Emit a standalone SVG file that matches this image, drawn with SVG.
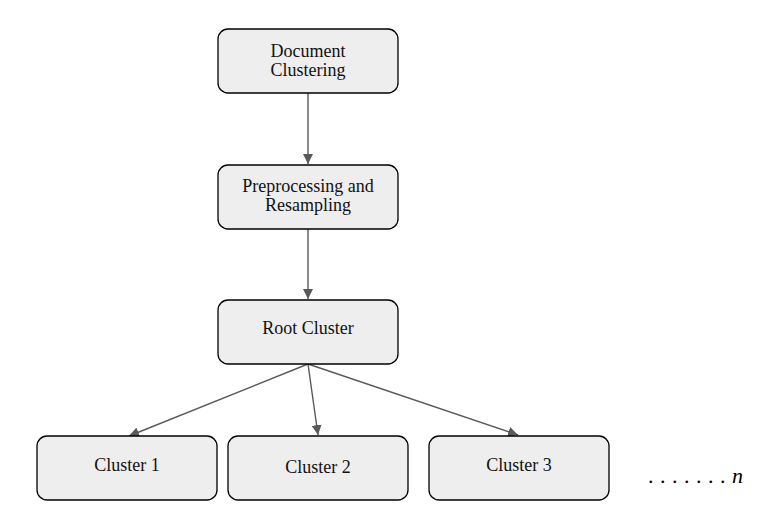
<svg xmlns="http://www.w3.org/2000/svg" width="764" height="512" viewBox="0 0 764 512">
<style>
.box{fill:#eeeeee;stroke:#000;stroke-width:1.3}
.lbl{font-family:"Liberation Serif","DejaVu Serif",serif;font-size:18px;fill:#111;text-anchor:middle}
.edge{stroke:#595959;stroke-width:1.4;fill:none}
</style>
<defs>
<marker id="ah" viewBox="0 0 10 10" refX="10" refY="5" markerWidth="10" markerHeight="10" markerUnits="userSpaceOnUse" orient="auto">
<path d="M0,0 L10,5 L0,10 z" fill="#595959"/>
</marker>
</defs>
<rect width="764" height="512" fill="#fff"/>
<g id="connectors">
<line class="edge" x1="308" y1="93" x2="308" y2="164" marker-end="url(#ah)"/>
<line class="edge" x1="308" y1="229" x2="308" y2="299" marker-end="url(#ah)"/>
<line class="edge" x1="308" y1="364" x2="129" y2="436" marker-end="url(#ah)"/>
<line class="edge" x1="308" y1="364" x2="318" y2="435" marker-end="url(#ah)"/>
<line class="edge" x1="308" y1="364" x2="518" y2="435" marker-end="url(#ah)"/>
</g>
<g id="doc">
<rect class="box" x="218" y="29" width="180" height="64" rx="10"/>
<text class="lbl" x="308" y="57">Document</text>
<text class="lbl" x="308" y="76">Clustering</text>
</g>
<g id="pre">
<rect class="box" x="218" y="165" width="180" height="64" rx="10"/>
<text class="lbl" x="308" y="192">Preprocessing and</text>
<text class="lbl" x="308" y="211">Resampling</text>
</g>
<g id="root">
<rect class="box" x="218" y="300" width="180" height="64" rx="10"/>
<text class="lbl" x="308" y="334">Root Cluster</text>
</g>
<g id="c1">
<rect class="box" x="37" y="436" width="180" height="64" rx="10"/>
<text class="lbl" x="127" y="471">Cluster 1</text>
</g>
<g id="c2">
<rect class="box" x="228" y="436" width="180" height="64" rx="10"/>
<text class="lbl" x="318" y="473">Cluster 2</text>
</g>
<g id="c3">
<rect class="box" x="429" y="436" width="180" height="64" rx="10"/>
<text class="lbl" x="519" y="471">Cluster 3</text>
</g>
<text x="648" y="483" font-family="Liberation Serif, serif" font-size="22" fill="#000" letter-spacing="6.5">.......<tspan font-style="italic" letter-spacing="0">n</tspan></text>
</svg>
